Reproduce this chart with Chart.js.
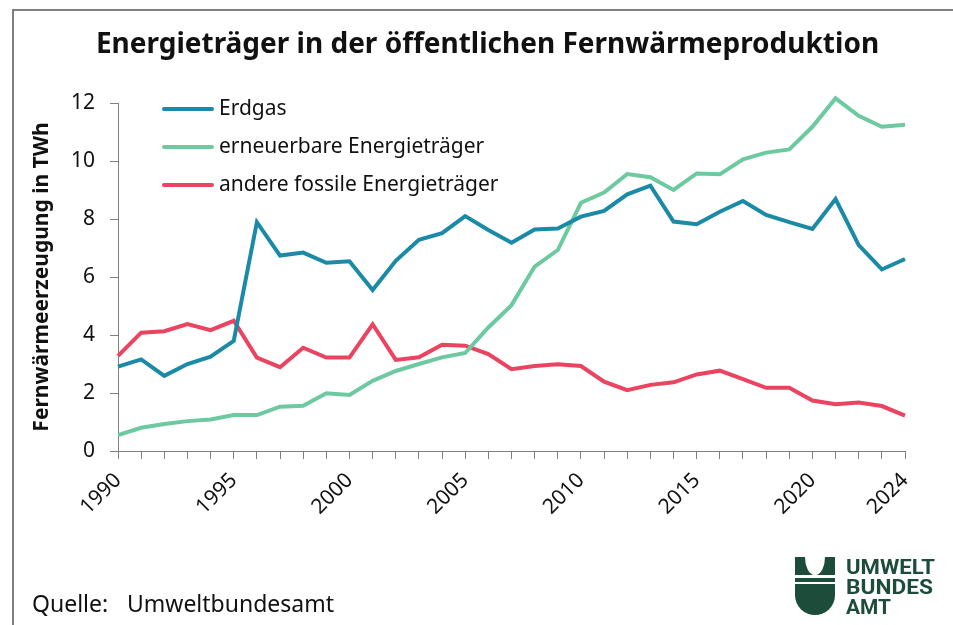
<!DOCTYPE html>
<html>
<head>
<meta charset="utf-8">
<script src="https://cdn.jsdelivr.net/npm/chart.js@4"></script>
<style>
  body { margin: 0; background: #fff; }
  #wrap { position: relative; width: 953px; height: 625px; overflow: hidden; font-family: "Noto Sans", sans-serif; color: #111; }
  #frame { position: absolute; left: 12px; top: 9px; width: 960px; height: 640px; border: 2px solid #808080; box-sizing: border-box; }
  #c { position: absolute; left: 0; top: 0; }
  #titel { position: absolute; left: 11px; top: 24px; width: 953px; text-align: center; font-size: 28px; font-weight: bold; line-height: 36px; }
  .quelle { position: absolute; top: 587px; font-size: 23px; white-space: pre; line-height: 32px; }
  #logo { position: absolute; left: 790px; top: 550px; }
</style>
</head>
<body>
<div id="wrap">
  <div id="frame"></div>
  <canvas id="c" width="953" height="625"></canvas>
  <div id="titel">Energieträger in der öffentlichen Fernwärmeproduktion</div>
  <div class="quelle" style="left:32px">Quelle:</div>
  <div class="quelle" style="left:127px">Umweltbundesamt</div>
  <svg id="logo" width="160" height="72" viewBox="790 550 160 72">
    <g fill="#1d4d3a">
      <path d="M795,557 L805,557 A10,18 0 0 0 814,575 L795,575 Z"/>
      <path d="M835,557 L825,557 A10,18 0 0 1 816,575 L835,575 Z"/>
      <rect x="795" y="578" width="40" height="4"/>
      <path d="M795,584 L835,584 L835,595 A20,20 0 0 1 795,595 Z"/>
      <g font-family="Roboto, sans-serif" font-weight="bold" font-size="21">
        <text x="846" y="574" textLength="89" lengthAdjust="spacingAndGlyphs">UMWELT</text>
        <text x="846" y="594" textLength="87" lengthAdjust="spacingAndGlyphs">BUNDES</text>
        <text x="846" y="614" textLength="45" lengthAdjust="spacingAndGlyphs">AMT</text>
      </g>
    </g>
  </svg>
</div>
<script>
// Jahre 1990 - 2024
const jahre = [1990,1991,1992,1993,1994,1995,1996,1997,1998,1999,2000,2001,2002,2003,2004,2005,2006,2007,2008,2009,2010,2011,2012,2013,2014,2015,2016,2017,2018,2019,2020,2021,2022,2023,2024];

const erdgas = [2.91,3.16,2.59,3.00,3.25,3.80,7.89,6.74,6.84,6.49,6.54,5.55,6.56,7.28,7.51,8.10,7.62,7.18,7.64,7.67,8.08,8.28,8.85,9.15,7.91,7.82,8.25,8.62,8.14,7.89,7.66,8.69,7.10,6.26,6.62];

const erneuerbare = [0.55,0.80,0.93,1.03,1.09,1.24,1.24,1.53,1.56,1.99,1.93,2.42,2.76,3.00,3.23,3.38,4.26,5.03,6.36,6.93,8.56,8.91,9.55,9.44,9.00,9.57,9.54,10.06,10.29,10.40,11.18,12.16,11.56,11.18,11.25];

const andereFossile = [3.28,4.08,4.13,4.38,4.17,4.49,3.22,2.89,3.56,3.22,3.22,4.37,3.14,3.23,3.66,3.63,3.34,2.82,2.93,2.99,2.93,2.39,2.10,2.28,2.37,2.64,2.77,2.48,2.18,2.18,1.74,1.61,1.67,1.55,1.22];

const reihenNamen = ['Erdgas', 'erneuerbare Energieträger', 'andere fossile Energieträger'];
const farben = ['#1a8aa6', '#6cc9a0', '#ea4460'];

const achsenGrau = '#808080';

//--------------------------------------------- legende im diagramm
const innenLegende = {
  id: 'innenLegende',
  afterDraw(chart) {
    const ctx = chart.ctx;
    ctx.save();
    ctx.font = '21px "Noto Sans"';
    ctx.textBaseline = 'middle';
    ctx.lineCap = 'round';
    chart.data.datasets.forEach((ds, i) => {
      const y = 109 + i * 38;
      ctx.strokeStyle = ds.borderColor;
      ctx.lineWidth = 4;
      ctx.beginPath();
      ctx.moveTo(164, y);
      ctx.lineTo(212, y);
      ctx.stroke();
      ctx.fillStyle = '#111';
      ctx.fillText(ds.label, 219, y);
    });
    ctx.restore();
  }
};

const datenFernwaerme = {
  labels: jahre,
  datasets: [erdgas, erneuerbare, andereFossile].map((werte, i) => ({
    label: reihenNamen[i],
    data: werte,
    borderColor: farben[i],
    backgroundColor: farben[i],
    borderWidth: 4,
    pointRadius: 0,
    tension: 0,
    clip: false,
    borderJoinStyle: 'miter'
  }))
};

const configFernwaerme = {
  type: 'line',
  data: datenFernwaerme,
  options: {
    responsive: false,
    animation: false,
    layout: { padding: { left: 0, right: 48, top: 103, bottom: 0 } },
    plugins: {
      legend: { display: false },
      tooltip: { enabled: false },
      title: { display: false }
    },
    scales: {
      x: {
        offset: false,
        border: { color: achsenGrau, width: 1 },
        grid: { drawOnChartArea: false, color: achsenGrau, tickLength: 8 },
        ticks: {
          autoSkip: false,
          maxRotation: 45,
          minRotation: 45,
          color: '#111',
          padding: 9,
          font: { family: 'Noto Sans', size: 21 },
          callback: function (val, idx) {
            const j = jahre[idx];
            return (j % 5 === 0 || idx === jahre.length - 1) ? String(j) : '';
          }
        },
        afterFit: (s) => { s.height = 625 - 451; }
      },
      y: {
        min: 0,
        max: 12,
        border: { color: achsenGrau, width: 1 },
        grid: { drawOnChartArea: false, color: achsenGrau, tickLength: 8 },
        ticks: {
          stepSize: 2,
          color: '#111',
          padding: 15,
          font: { family: 'Noto Sans', size: 21 }
        },
        title: {
          display: true,
          text: 'Fernwärmeerzeugung in TWh',
          color: '#111',
          font: { family: 'Noto Sans', size: 21, weight: 'bold' },
          padding: { top: 29, bottom: 0 }
        },
        afterFit: (s) => { s.width = 118; }
      }
    }
  },
  plugins: [innenLegende]
};

var chartFernwaerme = new Chart(
  document.getElementById('c'),
  configFernwaerme
);
</script>
</body>
</html>
